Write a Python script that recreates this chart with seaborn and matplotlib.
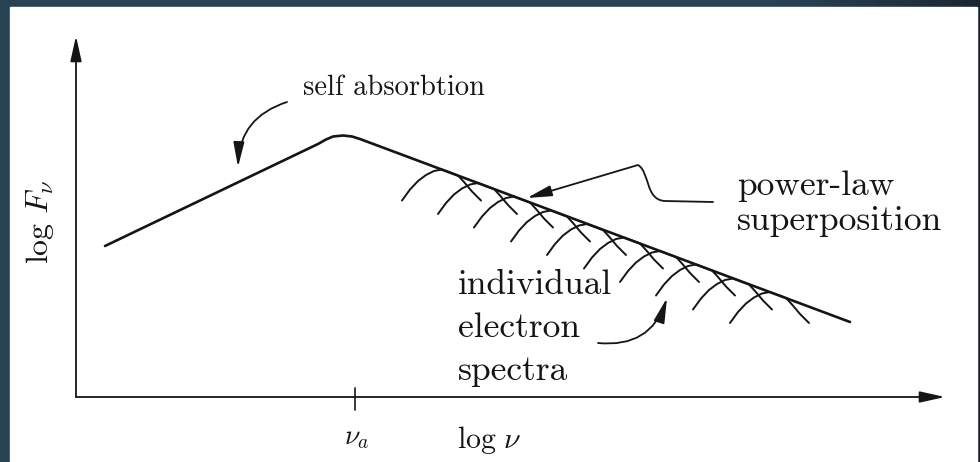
import numpy as np
import pandas as pd
import matplotlib
matplotlib.use("Agg")
import matplotlib.pyplot as plt
import seaborn as sns
from matplotlib.patches import Rectangle, FancyArrowPatch
from matplotlib.path import Path
from matplotlib.colors import LinearSegmentedColormap

# schematic coordinates (x to the right, y downwards, same grid as the 980x462 canvas)
# broken power law: self-absorbed rise, rounded peak at nu_a, power-law decline
spectrum_x = [105, 318, 326, 333, 343, 352, 360, 850]
spectrum_y = [246, 144, 139.5, 136.5, 135.5, 136.5, 139, 322]

# individual electron spectra: left foot of each arc
arc_left_x = [402, 438, 474, 511, 547, 584, 620, 656, 693, 730]
arc_left_y = [200.5, 214, 227.5, 241.5, 255, 268.5, 282, 295.5, 309.5, 323]
# shape of one single-electron spectrum (offset from its left foot)
arc_dx = [0, 8, 16, 24, 32, 40, 48, 56, 62, 70, 79]
arc_dy = [0, 11, 19.5, 25.5, 29.5, 31, 28, 25, 18.5, 9, 0]

nu_a_x = 355
axis_origin = (76, 397)
axis_ends = (945, 36)

ink = "#151515"

sns.set_theme(style="white")
plt.rcParams["font.family"] = ["cmr10", "DejaVu Serif"]
plt.rcParams["mathtext.fontset"] = "cm"
plt.rcParams["axes.unicode_minus"] = False

fig = plt.figure(figsize=(9.8, 4.62), dpi=100, facecolor="#274050")
ax = fig.add_axes([0, 0, 1, 1])
ax.set_xlim(0, 980)
ax.set_ylim(462, 0)
ax.axis("off")

# slide background with a darker right side, then the white panel
bg = LinearSegmentedColormap.from_list("bg", ["#284254", "#284254", "#1b2531"])
ax.imshow(np.linspace(0, 1, 256)[None, :] ** 3, cmap=bg, aspect="auto",
          extent=(0, 980, 462, 0), zorder=-1)
ax.add_patch(Rectangle((10, 7), 967, 460, color="white", zorder=0))

# axes arrows
arrow_kw = dict(arrowstyle="-|>,head_length=0.9,head_width=0.2", lw=1.3,
                color=ink, mutation_scale=17, shrinkA=0, shrinkB=0)
ax.annotate("", xy=(axis_origin[0], axis_ends[1]), xytext=axis_origin, arrowprops=arrow_kw)
ax.annotate("", xy=(axis_ends[0], axis_origin[1]), xytext=axis_origin, arrowprops=arrow_kw)
ax.plot([nu_a_x, nu_a_x], [388, 410], color=ink, lw=1.2)

# spectrum
sns.lineplot(x=spectrum_x, y=spectrum_y, sort=False, color=ink, lw=1.9, ax=ax)

arcs = []
for i, (x0, y0) in enumerate(zip(arc_left_x, arc_left_y)):
    for dx, dy in zip(arc_dx, arc_dy):
        arcs.append({"arc": i, "x": x0 + dx, "y": y0 - dy})
arcs = pd.DataFrame(arcs)
sns.lineplot(data=arcs, x="x", y="y", units="arc", estimator=None, sort=False,
             color=ink, lw=1.4, ax=ax)

# labels
ax.text(40, 222, r"$\log\,F_\nu$", rotation=90, ha="center", va="center", fontsize=23, color=ink)
ax.text(nu_a_x + 2, 438, r"$\nu_a$", ha="center", va="center", fontsize=20, color=ink)
ax.text(489, 440, r"$\log\,\nu$", ha="center", va="center", fontsize=21.5, color=ink)

ax.text(303, 88, "self absorbtion", ha="left", va="center", fontsize=20.5, color=ink)
ax.text(737, 186, "power-law", ha="left", va="center", fontsize=25.5, color=ink)
ax.text(737, 221, "superposition", ha="left", va="center", fontsize=25.5, color=ink)
ax.text(458, 285, "individual", ha="left", va="center", fontsize=25.5, color=ink)
ax.text(458, 328, "electron", ha="left", va="center", fontsize=25.5, color=ink)
ax.text(458, 371, "spectra", ha="left", va="center", fontsize=25.5, color=ink)

# pointer arrows
head = "-|>,head_length=1.0,head_width=0.22"
ax.annotate("", xy=(238, 167), xytext=(287, 102),
            arrowprops=dict(arrowstyle=head, connectionstyle="arc3,rad=0.35",
                            lw=1.3, color=ink, mutation_scale=15, shrinkA=0, shrinkB=0))
ax.annotate("", xy=(667, 298), xytext=(598, 343),
            arrowprops=dict(arrowstyle=head, connectionstyle="arc3,rad=0.4",
                            lw=1.3, color=ink, mutation_scale=15, shrinkA=0, shrinkB=0))
verts = [(713, 202), (665, 201), (645, 200), (650, 172), (638, 165), (527, 198)]
codes = [Path.MOVETO, Path.LINETO, Path.CURVE4, Path.CURVE4, Path.CURVE4, Path.LINETO]
ax.add_patch(FancyArrowPatch(path=Path(verts, codes), arrowstyle=head, lw=1.3,
                             color=ink, mutation_scale=15, shrinkA=0, shrinkB=0))

fig.savefig("out.png", dpi=100, facecolor=fig.get_facecolor())
